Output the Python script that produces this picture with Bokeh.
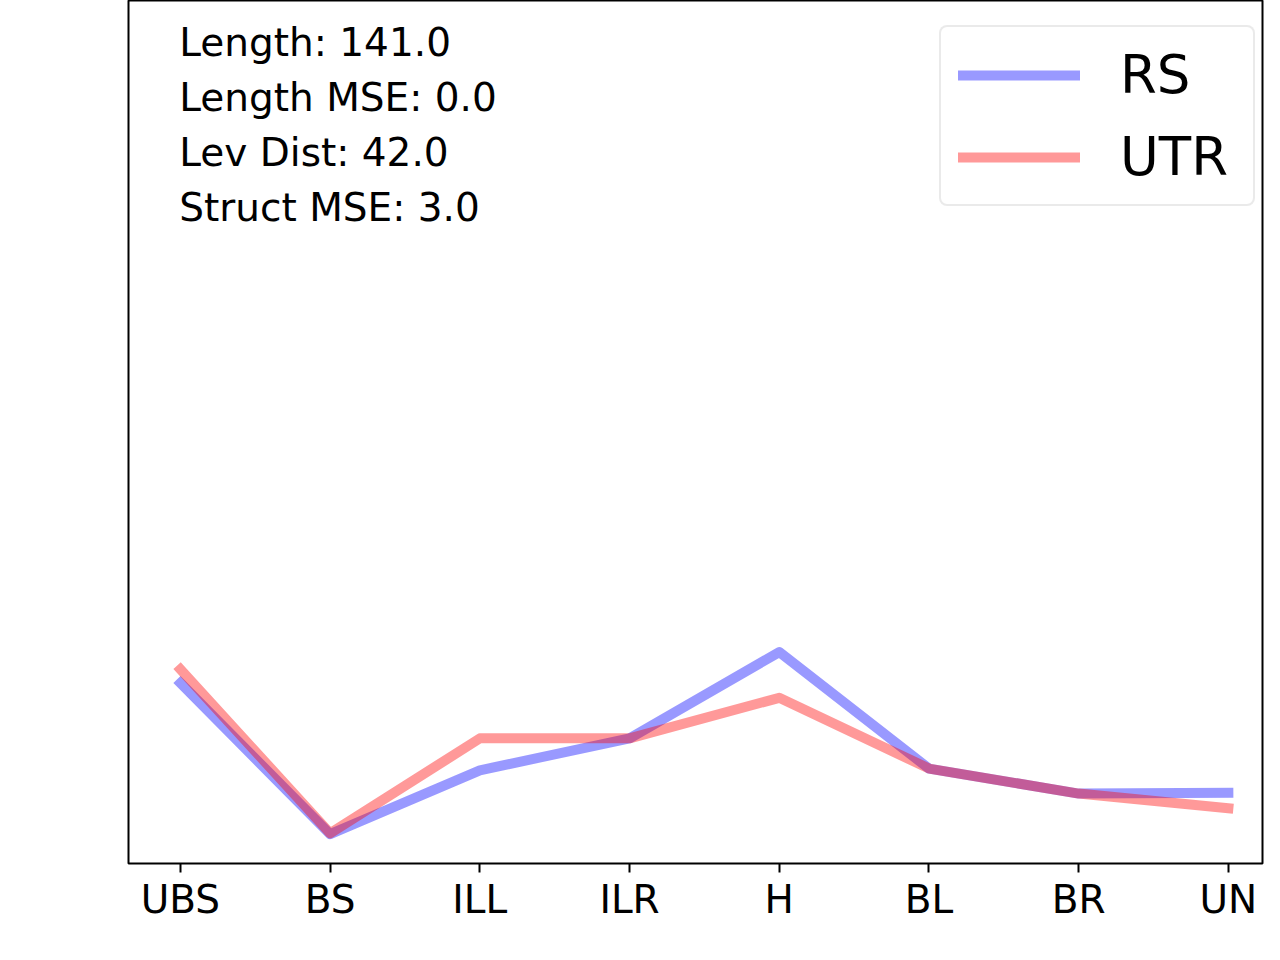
from bokeh.plotting import figure
from bokeh.models import Range1d, FixedTicker, Label, Legend, LegendItem
from bokeh.embed import file_html
from bokeh.resources import INLINE

# ---- data ----
categories = ["UBS", "BS", "ILL", "ILR", "H", "BL", "BR", "UN"]
rs_values = [0.209, 0.034, 0.108, 0.145, 0.245, 0.110, 0.081, 0.082]
utr_values = [0.225, 0.035, 0.145, 0.145, 0.192, 0.110, 0.081, 0.064]
stat_names = ["Length", "Length MSE", "Lev Dist", "Struct MSE"]
stat_values = [141.0, 0.0, 42.0, 3.0]

FONT = "DejaVu Sans"
xs = list(range(len(categories)))

p = figure(width=1264, height=944, output_backend="svg", toolbar_location=None,
           x_range=Range1d(-0.347, 7.228), y_range=Range1d(0, 1.0),
           min_border_left=128, min_border_right=2, min_border_top=0, min_border_bottom=81)
p.background_fill_color = "white"
p.border_fill_color = "white"
p.grid.visible = False
p.outline_line_color = "black"
p.outline_line_width = 2
p.yaxis.visible = False

ax = p.xaxis[0]
ax.ticker = FixedTicker(ticks=xs)
ax.major_label_overrides = {i: c for i, c in zip(xs, categories)}
ax.axis_line_color = None
ax.major_tick_in = 0
ax.major_tick_out = 9
ax.major_tick_line_width = 2
ax.major_tick_line_color = "black"
ax.minor_tick_line_color = None
ax.major_label_text_font = FONT
ax.major_label_text_font_size = "39px"
ax.major_label_text_color = "black"
ax.major_label_standoff = 4

r_rs = p.line(xs, rs_values, line_color="blue", line_alpha=0.4, line_width=10,
              line_cap="square", line_join="round")
r_utr = p.line(xs, utr_values, line_color="red", line_alpha=0.4, line_width=10,
               line_cap="square", line_join="round")

legend = Legend(items=[LegendItem(label="RS", renderers=[r_rs]),
                       LegendItem(label="UTR", renderers=[r_utr])],
                location=(811, 657), margin=0, padding=17,
                glyph_width=122, glyph_height=60, label_height=60,
                label_width=116, spacing=21, label_standoff=40,
                label_text_font=FONT, label_text_font_size="53px",
                label_text_color="black",
                border_line_color="#d6d6d6", border_line_width=2,
                background_fill_color="white", background_fill_alpha=0.8)
try:
    legend.border_radius = 8
except Exception:
    pass
p.add_layout(legend)

for i, (n, v) in enumerate(zip(stat_names, stat_values)):
    p.add_layout(Label(x=-0.008, y=0.951 - 0.0637 * i, text=f"{n}: {v:.1f}",
                       text_font=FONT, text_font_size="39px", text_color="black",
                       text_baseline="alphabetic", text_align="left"))

open("out.html", "w").write(file_html(p, INLINE))
